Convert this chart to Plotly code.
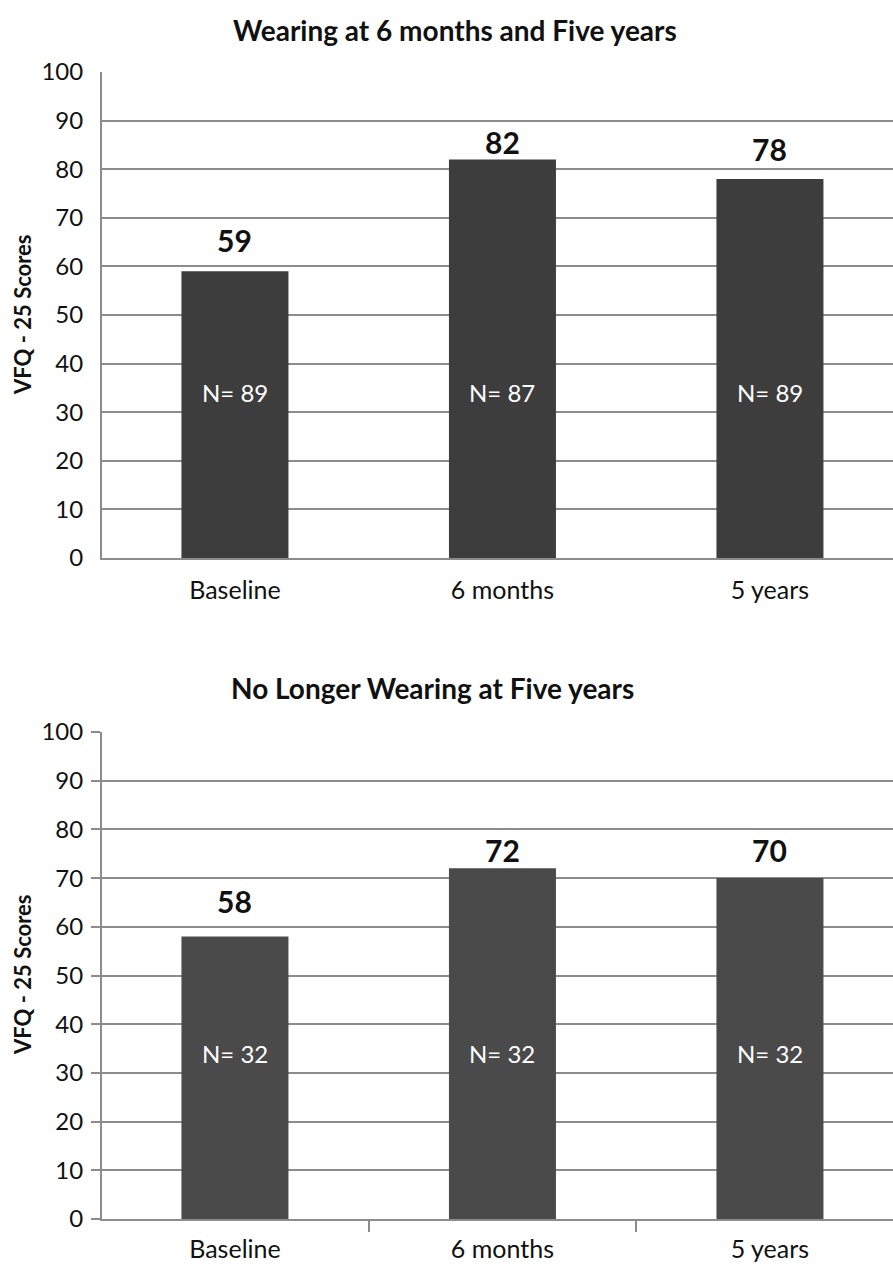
import plotly.graph_objects as go

# VFQ-25 scores by visit
categories = ["Baseline", "6 months", "5 years"]
wearing_scores = [59, 82, 78]
wearing_n = [89, 87, 89]
stopped_scores = [58, 72, 70]
stopped_n = [32, 32, 32]
y_ticks = [0, 10, 20, 30, 40, 50, 60, 70, 80, 90, 100]

FONT = "Lato"
GRID = "#8c8c8c"

# pixel offsets of value labels above the bar tops
wearing_label_shift = [31, 17, 30]
stopped_label_shift = [36, 18, 28]
N_LABEL_Y = 34

fig = go.Figure()

fig.add_trace(go.Bar(x=categories, y=wearing_scores, xaxis="x", yaxis="y",
                     marker=dict(color="#3d3d3d", line=dict(width=0)),
                     width=0.4, showlegend=False, hoverinfo="skip"))
fig.add_trace(go.Bar(x=categories, y=stopped_scores, xaxis="x2", yaxis="y2",
                     marker=dict(color="#4a4a4a", line=dict(width=0)),
                     width=0.4, showlegend=False, hoverinfo="skip"))

annotations = []
for xr, yr, scores, ns, shifts in (("x", "y", wearing_scores, wearing_n, wearing_label_shift),
                                    ("x2", "y2", stopped_scores, stopped_n, stopped_label_shift)):
    for cat, s, n, sh in zip(categories, scores, ns, shifts):
        annotations.append(dict(x=cat, y=s, xref=xr, yref=yr, text=f"<b>{s}</b>",
                                showarrow=False, yshift=sh,
                                font=dict(family=FONT, size=30, color="#111")))
        annotations.append(dict(x=cat, y=N_LABEL_Y, xref=xr, yref=yr, text=f"N= {n}",
                                showarrow=False,
                                font=dict(family=FONT, size=24, color="white")))

annotations.append(dict(x=455 / 893, y=1 - 30 / 1264, xref="paper", yref="paper",
                        xanchor="center", yanchor="middle",
                        text="<b>Wearing at 6 months and Five years</b>", showarrow=False,
                        font=dict(family=FONT, size=28, color="#111")))
annotations.append(dict(x=432 / 893, y=1 - 688 / 1264, xref="paper", yref="paper",
                        xanchor="center", yanchor="middle",
                        text="<b>No Longer Wearing at Five years</b>", showarrow=False,
                        font=dict(family=FONT, size=28, color="#111")))
for yc in (315, 975):
    annotations.append(dict(x=22 / 893, y=1 - yc / 1264, xref="paper", yref="paper",
                            xanchor="center", yanchor="middle",
                            text="<b>VFQ - 25 Scores</b>", showarrow=False, textangle=-90,
                            font=dict(family=FONT, size=22, color="#111")))

x_range = [-0.497, 2.46]
common_x = dict(type="category", range=x_range, showgrid=False, showline=True,
                linecolor=GRID, linewidth=2, zeroline=False, automargin=False,
                tickfont=dict(family=FONT, size=25, color="#111"))
common_y = dict(range=[0, 100], tickvals=y_ticks, showgrid=True, gridcolor=GRID,
                gridwidth=2, showline=True, linecolor=GRID, linewidth=2, zeroline=False,
                automargin=False,
                tickfont=dict(family=FONT, size=24, color="#111"))

fig.update_layout(
    width=893, height=1264,
    margin=dict(l=0, r=0, t=0, b=0, autoexpand=False),
    paper_bgcolor="white", plot_bgcolor="white",
    bargap=0.6,
    xaxis=dict(common_x, domain=[102 / 893, 1], anchor="y", ticks="",
               ticklabelstandoff=9),
    yaxis=dict(common_y, domain=[1 - 558 / 1264, 1 - 72 / 1264], anchor="x",
               ticks="", ticklabelstandoff=12),
    xaxis2=dict(common_x, domain=[102 / 893, 1], anchor="y2", ticks="outside",
                tickson="boundaries", ticklen=11, tickcolor=GRID, tickwidth=2,
                ticklabelstandoff=7),
    yaxis2=dict(common_y, domain=[1 - 1219 / 1264, 1 - 732 / 1264], anchor="x2",
                ticks="outside", ticklen=9, tickcolor=GRID, tickwidth=2,
                ticklabelstandoff=3),
    annotations=annotations,
)

fig.write_html("out.html")
